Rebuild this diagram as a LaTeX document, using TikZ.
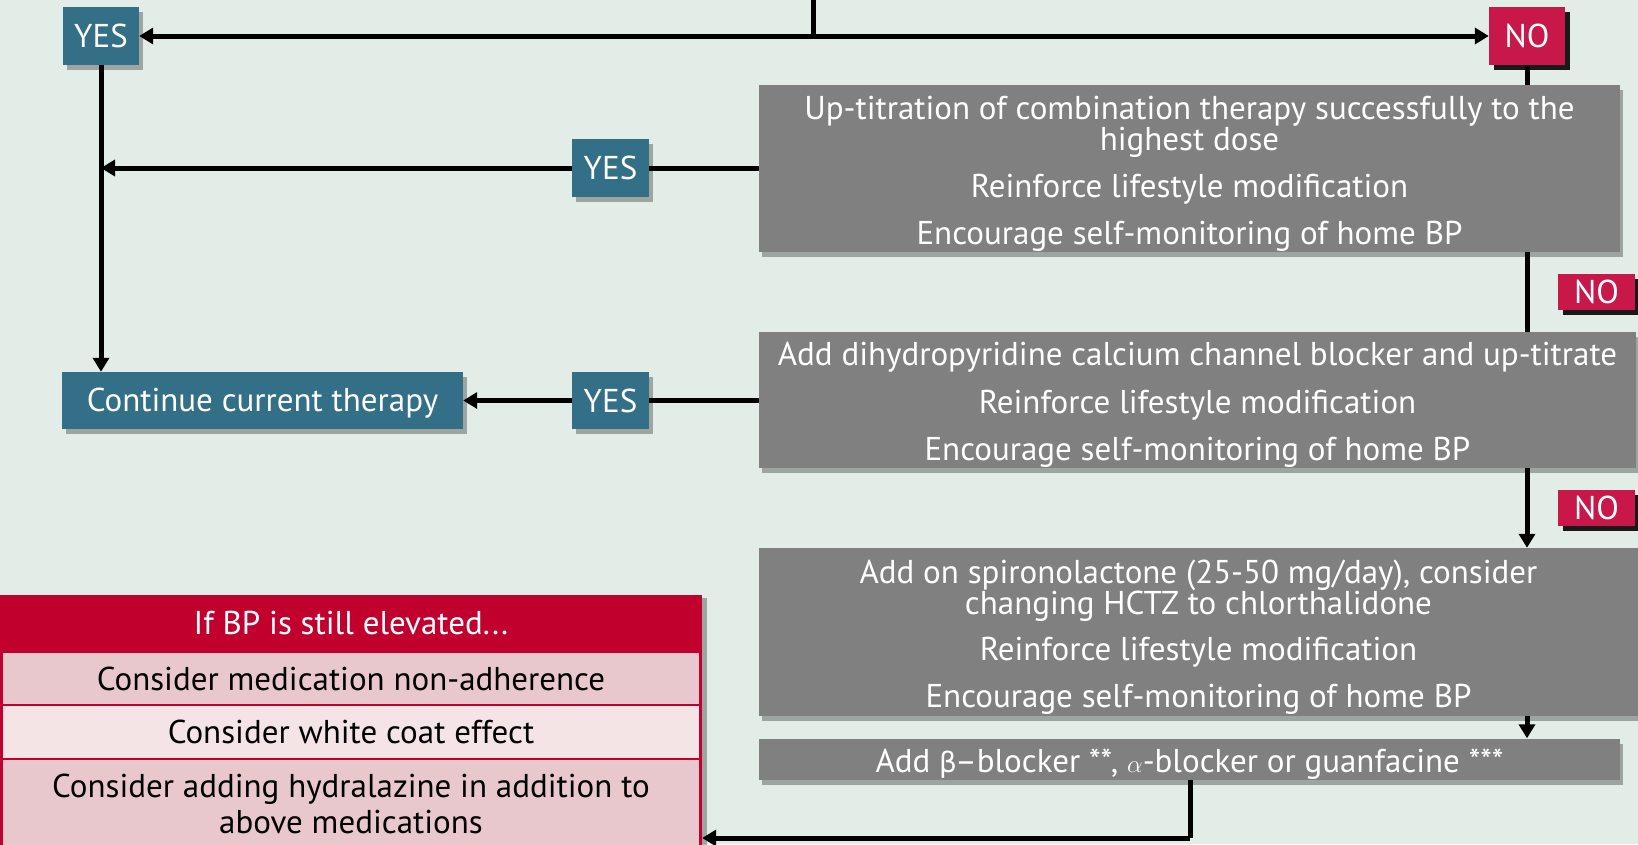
\documentclass[tikz,border=0pt]{standalone}
\usepackage{fontspec}
\setmainfont{PT Sans}
\newfontfamily\grk{DejaVu Sans}
\usetikzlibrary{arrows.meta,shadows}
\definecolor{bg}{RGB}{227,237,232}
\definecolor{teal1}{RGB}{51,111,135}
\definecolor{crim}{RGB}{200,24,74}
\definecolor{crimd}{RGB}{193,0,46}
\definecolor{boxgray}{RGB}{128,128,128}
\definecolor{pink1}{RGB}{232,200,204}
\definecolor{pink2}{RGB}{244,228,230}
\newcommand{\topstrut}{\rule{0pt}{33pt}}
\begin{document}
\begin{tikzpicture}[x=1pt,y=-1pt,
  line/.style={line width=5pt},
  arr/.style={line width=5pt,-{Triangle[length=14pt,width=16pt]}},
  txt/.style={font=\fontsize{33}{31}\selectfont},
  tealbox/.style={fill=teal1,text=white,inner sep=0pt,txt,drop shadow={shadow xshift=4pt,shadow yshift=-5pt,fill=black,opacity=0.3}},
  nobox/.style={fill=crim,text=white,inner sep=0pt,txt,general shadow={shadow xshift=5pt,shadow yshift=-5pt,fill=black!90}},
  graybox/.style={fill=boxgray,text=white,inner sep=0pt,align=center,txt,drop shadow={shadow xshift=3pt,shadow yshift=-5pt,fill=black,opacity=0.3}},
  rowbox/.style={fill=pink1,draw=crimd,line width=2pt,text=black,inner sep=0pt,align=center,txt}
]
\fill[bg] (0,0) rectangle (1638,844);
\useasboundingbox (0,0) rectangle (1638,844);

% decision labels
\node[tealbox,minimum width=76pt,minimum height=58pt] (yes1) at (101,36) {YES};
\node[nobox,minimum width=76pt,minimum height=58pt] (no1) at (1527,36) {NO};
\node[tealbox,minimum width=77pt,minimum height=58pt] (yes2) at (610.5,168) {YES};
\node[tealbox,minimum width=77pt,minimum height=57pt] (yes3) at (610.5,400.5) {YES};
\node[tealbox,minimum width=401pt,minimum height=57pt] (cont) at (262.5,400.5) {\rule{0pt}{28pt}Continue current therapy};
\node[nobox,minimum width=77pt,minimum height=36pt] (no2) at (1596.5,292) {NO};
\node[nobox,minimum width=77pt,minimum height=36pt] (no3) at (1596.5,508) {NO};

% gray boxes
\node[graybox,minimum width=861pt,minimum height=167pt] (b1) at (1189.5,168.5)
  {\topstrut Up-titration of combination therapy successfully to the\\ highest dose\\[16pt]
   Reinforce lifestyle modification\\[16pt] Encourage self-monitoring of home BP};
\node[graybox,minimum width=877pt,minimum height=136pt] (b2) at (1197.5,400)
  {\topstrut Add dihydropyridine calcium channel blocker and up-titrate\\[17pt]
   Reinforce lifestyle modification\\[16pt] Encourage self-monitoring of home BP};
\node[graybox,minimum width=879pt,minimum height=168pt] (b3) at (1198.5,632)
  {\topstrut Add on spironolactone (25-50 mg/day), consider\\ changing HCTZ to chlorthalidone\\[15pt]
   Reinforce lifestyle modification\\[16pt] Encourage self-monitoring of home BP};
\node[graybox,minimum width=861pt,minimum height=40pt] (b4) at (1189.5,759)
  {\rule{0pt}{34pt}Add {\grk\fontsize{28}{31}\selectfont β}\kern-2pt–blocker **, $\alpha$-blocker or guanfacine ***};

% red panel
\node[fill=crimd,minimum width=702pt,minimum height=255pt,inner sep=0pt,
  drop shadow={shadow xshift=5pt,shadow yshift=-3pt,fill=black,opacity=0.3}] (panel) at (351,722.5) {};
\node[text=white,txt,inner sep=0pt] (hdr) at (351,623.5) {If BP is still elevated...};
\node[rowbox,minimum width=698pt,minimum height=53pt] (r1) at (351,678.5) {Consider medication non-adherence};
\node[rowbox,fill=pink2,minimum width=698pt,minimum height=54pt] (r2) at (351,732) {Consider white coat effect};
\node[rowbox,minimum width=698pt,minimum height=90pt,font=\fontsize{33}{36}\selectfont] (r3) at (351,804)
  {Consider adding hydralazine in addition to\\ above medications};

% connectors
\coordinate (top) at (813,0);
\coordinate (j) at (813,36);
\draw[line] (top) -- (j);
\draw[arr] (j) -- (yes1.east);
\draw[arr] (j) -- (no1.west);
\draw[line] (no1.south) -- (no1.south |- b1.north);
\draw[line] (b1.west |- yes2.east) -- (yes2.east);
\draw[arr] (yes2.west) -- (yes2.west -| yes1.south);
\draw[arr] (yes1.south) -- (yes1.south |- cont.north);
\draw[line] (b1.south -| no1.south) -- (b2.north -| no1.south);
\draw[arr] (b2.south -| no1.south) -- (b3.north -| no1.south);
\draw[arr] (b3.south -| no1.south) -- (b4.north -| no1.south);
\draw[line] (b2.west |- yes3.east) -- (yes3.east);
\draw[arr] (yes3.west) -- (cont.east);
\coordinate (bend) at (1190,838);
\draw[line] (b4.south -| bend) -- (bend);
\draw[arr] (bend) -- (bend -| panel.east);
\end{tikzpicture}
\end{document}
